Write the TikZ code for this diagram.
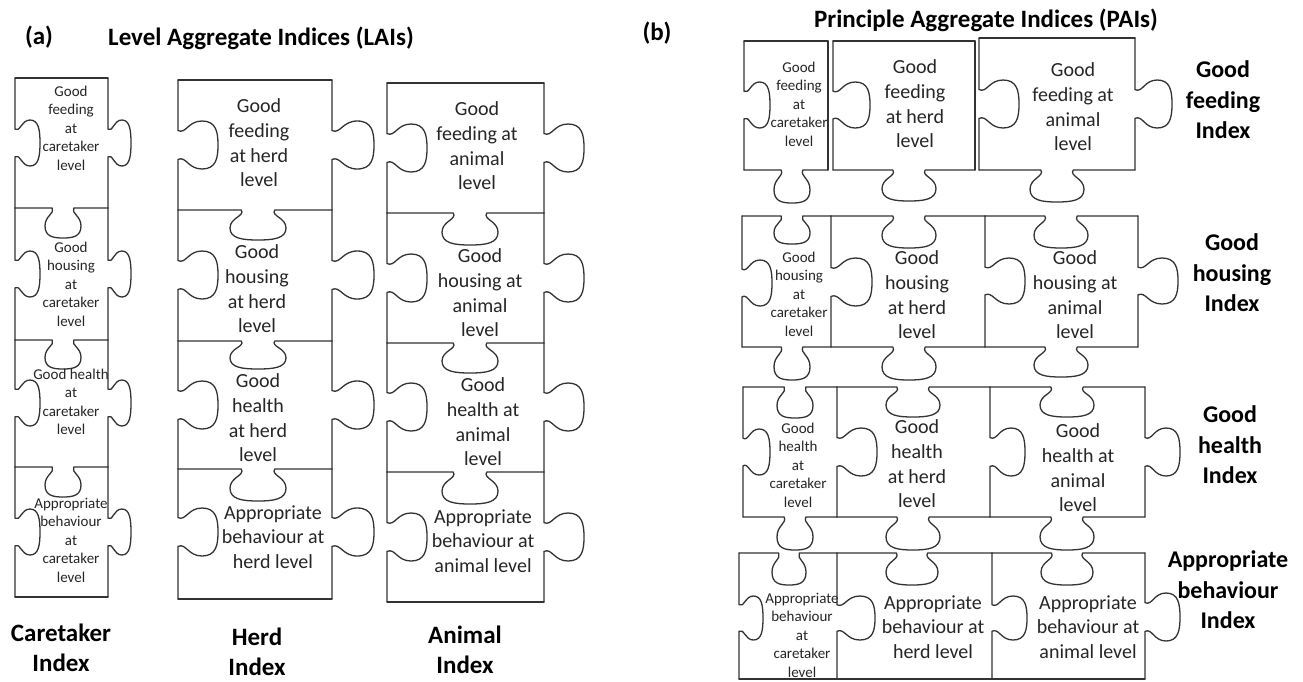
\documentclass[tikz,border=0pt]{standalone}
\usepackage{fontspec}
\setmainfont{Carlito}
\newcommand\hedge[6]{%
\draw[pz] (#1,#3) -- ({#4-0.6*(#5)},#3)
 .. controls ({#4-0.45*(#5)},{#3+0.2*(#6)}) and ({#4-(#5)},{#3+0.25*(#6)}) .. ({#4-(#5)},{#3+0.6*(#6)})
 .. controls ({#4-(#5)},{#3+0.95*(#6)}) and ({#4-0.55*(#5)},{#3+(#6)}) .. (#4,{#3+(#6)})
 .. controls ({#4+0.55*(#5)},{#3+(#6)}) and ({#4+(#5)},{#3+0.95*(#6)}) .. ({#4+(#5)},{#3+0.6*(#6)})
 .. controls ({#4+(#5)},{#3+0.25*(#6)}) and ({#4+0.45*(#5)},{#3+0.2*(#6)}) .. ({#4+0.6*(#5)},#3)
 -- (#2,#3);}
\newcommand\vedge[6]{%
\draw[pz] (#1,#2) -- (#1,{#4-0.6*(#5)})
 .. controls ({#1+0.2*(#6)},{#4-0.45*(#5)}) and ({#1+0.25*(#6)},{#4-(#5)}) .. ({#1+0.6*(#6)},{#4-(#5)})
 .. controls ({#1+0.95*(#6)},{#4-(#5)}) and ({#1+(#6)},{#4-0.55*(#5)}) .. ({#1+(#6)},#4)
 .. controls ({#1+(#6)},{#4+0.55*(#5)}) and ({#1+0.95*(#6)},{#4+(#5)}) .. ({#1+0.6*(#6)},{#4+(#5)})
 .. controls ({#1+0.25*(#6)},{#4+(#5)}) and ({#1+0.2*(#6)},{#4+0.45*(#5)}) .. (#1,{#4+0.6*(#5)})
 -- (#1,#3);}
\tikzset{
 pz/.style={line width=1.3pt, draw=black!80, line join=round, line cap=round},
 sm/.style={align=center, font=\fontsize{15}{18.5}\selectfont, inner sep=0pt, text=black!85},
 lg/.style={align=center, font=\fontsize{20}{24.6}\selectfont, inner sep=0pt, text=black!85},
 lab/.style={align=center, font=\bfseries\fontsize{24}{30.5}\selectfont, inner sep=0pt},
 labb/.style={align=center, font=\bfseries\fontsize{25}{30.5}\selectfont, inner sep=0pt},
 ttl/.style={font=\bfseries\fontsize{25}{30}\selectfont, inner sep=0pt}
}
\begin{document}
\begin{tikzpicture}[x=1pt,y=-1pt]
\fill[white] (0,0) rectangle (1303,681);
\useasboundingbox (0,0) rectangle (1303,681);
% ---------------- titles
\node[ttl] (la) at (39,37) {(a)};
\node[ttl] (ta) at (261,38) {Level Aggregate Indices (LAIs)};
\node[ttl] (lb) at (657,33) {(b)};
\node[ttl] (tb) at (986,20) {Principle Aggregate Indices (PAIs)};
% ---------------- (a) caretaker column
\draw[pz] (15,78) -- (108,78);
\hedge{15}{108}{208}{63}{18}{30}
\hedge{15}{108}{340}{63}{18}{29}
\hedge{15}{108}{467}{63}{18}{30}
\draw[pz] (15,597) -- (108,597);
\vedge{15}{78}{208}{143}{23}{25}
\vedge{15}{208}{340}{274}{23}{25}
\vedge{15}{340}{467}{403}{23}{25}
\vedge{15}{467}{597}{532}{23}{25}
\vedge{108}{78}{208}{143}{23}{23}
\vedge{108}{208}{340}{274}{23}{23}
\vedge{108}{340}{467}{403}{23}{23}
\vedge{108}{467}{597}{532}{23}{23}
% ---------------- (a) herd column
\draw[pz] (178,80) -- (332,80);
\hedge{178}{332}{210}{258}{28}{30}
\hedge{178}{332}{341}{258}{28}{28}
\hedge{178}{332}{469}{258}{28}{32}
\draw[pz] (178,599) -- (332,599);
\vedge{178}{80}{210}{145}{24}{40}
\vedge{178}{210}{341}{275}{24}{40}
\vedge{178}{341}{469}{405}{24}{40}
\vedge{178}{469}{599}{532}{24}{40}
\vedge{332}{80}{210}{145}{24}{42}
\vedge{332}{210}{341}{275}{24}{42}
\vedge{332}{341}{469}{405}{24}{42}
\vedge{332}{469}{599}{532}{24}{42}
% ---------------- (a) animal column
\draw[pz] (387,83) -- (544,83);
\hedge{387}{544}{213}{470}{28}{32}
\hedge{387}{544}{343}{470}{28}{30}
\hedge{387}{544}{472}{470}{28}{32}
\draw[pz] (387,602) -- (544,602);
\vedge{387}{83}{213}{148}{24}{40}
\vedge{387}{213}{343}{278}{24}{40}
\vedge{387}{343}{472}{407}{24}{40}
\vedge{387}{472}{602}{537}{24}{40}
\vedge{544}{83}{213}{148}{24}{40}
\vedge{544}{213}{343}{278}{24}{40}
\vedge{544}{343}{472}{407}{24}{40}
\vedge{544}{472}{602}{537}{24}{40}
% ---------------- (a) texts
\node[sm] (ac1) at (71,128) {Good\\feeding\\at\\caretaker\\level};
\node[sm] (ac2) at (71,284) {Good\\housing\\at\\caretaker\\level};
\node[sm] (ac3) at (71,402) {Good health\\at\\caretaker\\level};
\node[sm] (ac4) at (71,540) {Appropriate\\behaviour\\at\\caretaker\\level};
\node[lg] (ah1) at (259,143) {Good\\feeding\\at herd\\level};
\node[lg] (ah2) at (257,289) {Good\\housing\\at herd\\level};
\node[lg] (ah3) at (258,418) {Good\\health\\at herd\\level};
\node[lg] (ah4) at (273,537) {Appropriate\\behaviour at\\herd level};
\node[lg] (aa1) at (477,146) {Good\\feeding at\\animal\\level};
\node[lg] (aa2) at (480,293) {Good\\housing at\\animal\\level};
\node[lg] (aa3) at (483,422) {Good\\health at\\animal\\level};
\node[lg] (aa4) at (483,541) {Appropriate\\behaviour at\\animal level};
\node[labb] (Lc) at (61,648) {Caretaker\\Index};
\node[labb] (Lh) at (257,652) {Herd\\Index};
\node[labb] (La) at (465,650) {Animal\\Index};
% ---------------- (b) row 1
\draw[pz] (744,41) -- (828,41);
\draw[pz] (833,41) -- (975,41);
\draw[pz] (979,38) -- (1135,38);
\vedge{744}{41}{170}{105}{23}{26}
\draw[pz] (828,41) -- (828,170);
\hedge{744}{828}{170}{792}{18}{33}
\vedge{833}{41}{170}{105}{23}{37}
\draw[pz] (975,41) -- (975,170);
\hedge{833}{975}{170}{909}{27}{31}
\vedge{979}{38}{170}{104}{24}{40}
\vedge{1135}{38}{170}{104}{24}{37}
\hedge{979}{1135}{170}{1057}{27}{32}
% ---------------- (b) row 2
\hedge{742}{831}{216}{792}{18}{28}
\hedge{831}{985}{216}{909}{27}{32}
\hedge{985}{1138}{216}{1061}{27}{32}
\vedge{742}{216}{347}{283}{23}{30}
\vedge{831}{216}{347}{282}{24}{41}
\vedge{985}{216}{347}{281}{23}{40}
\vedge{1138}{216}{347}{281}{23}{40}
\hedge{742}{831}{347}{792}{18}{33}
\hedge{831}{985}{347}{909}{27}{33}
\hedge{985}{1138}{347}{1061}{27}{30}
% ---------------- (b) row 3
\hedge{743}{837}{387}{795}{18}{31}
\hedge{837}{990}{387}{913}{27}{30}
\hedge{990}{1145}{387}{1067}{27}{30}
\vedge{743}{387}{517}{452}{23}{27}
\vedge{837}{387}{517}{452}{24}{40}
\vedge{990}{387}{517}{452}{24}{35}
\vedge{1145}{387}{517}{452}{24}{35}
\hedge{743}{837}{517}{795}{18}{33}
\hedge{837}{990}{517}{913}{27}{33}
\hedge{990}{1145}{517}{1067}{27}{33}
% ---------------- (b) row 4
\hedge{739}{837}{553}{789}{17}{32}
\hedge{837}{992}{553}{912}{26}{32}
\hedge{992}{1145}{553}{1067}{26}{32}
\vedge{739}{553}{679}{618}{22}{24}
\vedge{837}{553}{679}{618}{22}{38}
\vedge{992}{553}{679}{618}{22}{35}
\vedge{1145}{553}{679}{617}{24}{35}
\draw[pz] (739,679) -- (1145,679);
% ---------------- (b) texts
\node[sm] (bc1) at (799,104) {Good\\feeding\\at\\caretaker\\level};
\node[sm] (bc2) at (799,294) {Good\\housing\\at\\caretaker\\level};
\node[sm] (bc3) at (798,465) {Good\\health\\at\\caretaker\\level};
\node[sm] (bc4) at (802,635) {Appropriate\\behaviour\\at\\caretaker\\level};
\node[lg] (bh1) at (915,104) {Good\\feeding\\at herd\\level};
\node[lg] (bh2) at (917,295) {Good\\housing\\at herd\\level};
\node[lg] (bh3) at (917,464) {Good\\health\\at herd\\level};
\node[lg] (bh4) at (933,627) {Appropriate\\behaviour at\\herd level};
\node[lg] (ba1) at (1073,107) {Good\\feeding at\\animal\\level};
\node[lg] (ba2) at (1075,295) {Good\\housing at\\animal\\level};
\node[lg] (ba3) at (1078,468) {Good\\health at\\animal\\level};
\node[lg] (ba4) at (1088,627) {Appropriate\\behaviour at\\animal level};
\node[lab] (Rf) at (1223,100) {Good\\feeding\\Index};
\node[lab] (Rh) at (1232,273) {Good\\housing\\Index};
\node[lab] (Rl) at (1230,445) {Good\\health\\Index};
\node[lab] (Rb) at (1228,590) {Appropriate\\behaviour\\Index};
\end{tikzpicture}
\end{document}
